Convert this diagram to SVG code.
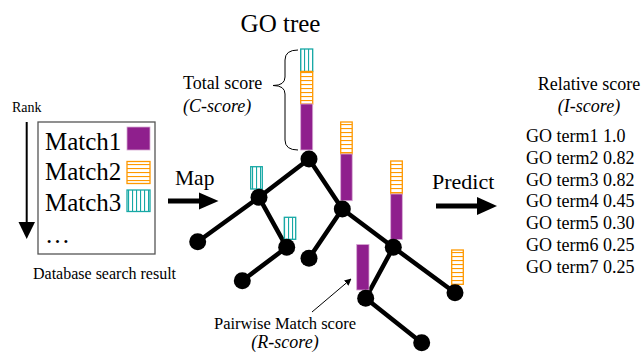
<svg xmlns="http://www.w3.org/2000/svg" width="643" height="353" viewBox="0 0 643 353">
<style>
text{font-family:"Liberation Serif","Times New Roman",serif;fill:#000}
.it{font-style:italic}
.edge{stroke:#000;stroke-width:4.5;stroke-linecap:round}
.node{fill:#000}
.p{fill:#8f1f8d;stroke:#d6a8d3;stroke-width:0.8}
.o{fill:url(#hH);stroke:#ff9900;stroke-width:1.3}
.c{fill:url(#vH);stroke:#17a8a5;stroke-width:1.3}
</style>
<defs>
<pattern id="hH" patternUnits="userSpaceOnUse" width="4" height="4"><rect width="4" height="4" fill="#fff"/><line x1="0" y1="0.5" x2="4" y2="0.5" stroke="#ff9900" stroke-width="1.2"/></pattern>
<pattern id="vH" patternUnits="userSpaceOnUse" width="4" height="4"><rect width="4" height="4" fill="#fff"/><line x1="0.5" y1="0" x2="0.5" y2="4" stroke="#17a8a5" stroke-width="1.2"/></pattern>
<marker id="ah" viewBox="0 0 10 10" refX="9" refY="5" markerWidth="7" markerHeight="7" markerUnits="userSpaceOnUse" orient="auto"><path d="M0,0 L10,5 L0,10 z" fill="#000"/></marker>
</defs>
<rect width="643" height="353" fill="#fff"/>

<!-- Database search result -->
<g id="db">
<text x="12" y="112" font-size="14">Rank</text>
<line x1="26.7" y1="122" x2="26.7" y2="223" stroke="#000" stroke-width="2"/>
<path d="M18.5,222 L35,222 L26.7,239 z" fill="#000"/>
<rect x="38" y="122" width="117" height="132" fill="#fff" stroke="#555" stroke-width="1.3"/>
<text x="45" y="149.5" font-size="25">Match1</text>
<text x="45" y="180" font-size="25">Match2</text>
<text x="45" y="210.5" font-size="25">Match3</text>
<text x="45" y="243" font-size="25">…</text>
<rect class="p" x="127" y="127" width="23" height="23"/>
<rect class="o" x="127" y="161.5" width="23" height="22"/>
<rect class="c" x="127" y="190" width="23" height="21.5"/>
<text x="33" y="279" font-size="16">Database search result</text>
</g>

<!-- Map arrow -->
<g id="map">
<text x="175" y="185" font-size="21.5">Map</text>
<line x1="168" y1="201" x2="201" y2="201" stroke="#000" stroke-width="5"/>
<path d="M199,192.5 L218.5,201 L199,209.5 z" fill="#000"/>
</g>

<text x="280.5" y="32" font-size="25" text-anchor="middle">GO tree</text>

<!-- Total score -->
<g id="total">
<text x="183" y="89" font-size="18">Total score</text>
<text x="183" y="111.5" font-size="18" class="it">(C-score)</text>
<path d="M298,50 Q285,50 285,60 L285,77 Q285,85.5 273,85.5 Q285,85.5 285,94 L285,140 Q285,150 298,150" fill="none" stroke="#000" stroke-width="1"/>
</g>

<!-- connectors -->
<g id="connectors">
<line class="edge" x1="309" y1="159" x2="259" y2="197.3"/>
<line class="edge" x1="309" y1="159" x2="342.3" y2="209"/>
<line class="edge" x1="259" y1="197.3" x2="197.7" y2="241.7"/>
<line class="edge" x1="259" y1="197.3" x2="286.7" y2="247.3"/>
<line class="edge" x1="286.7" y1="247.3" x2="242.3" y2="280.7"/>
<line class="edge" x1="342.3" y1="209" x2="309" y2="258.3"/>
<line class="edge" x1="342.3" y1="209" x2="393.3" y2="247.3"/>
<line class="edge" x1="393.3" y1="247.3" x2="365.7" y2="298.3"/>
<line class="edge" x1="393.3" y1="247.3" x2="455" y2="292.7"/>
<line class="edge" x1="365.7" y1="298.3" x2="421.7" y2="342.7"/>
</g>

<!-- score bars -->
<g id="bars">
<rect class="c" x="300.7" y="49" width="12" height="22.5"/>
<rect class="o" x="300.7" y="71.5" width="12" height="32.5"/>
<rect class="p" x="300.7" y="104" width="12" height="46"/>
<rect class="o" x="340.7" y="122" width="11.5" height="32"/>
<rect class="p" x="340.7" y="154" width="11.5" height="46.7"/>
<rect class="o" x="390.7" y="161" width="11.6" height="33"/>
<rect class="p" x="390.7" y="194" width="11.6" height="45.5"/>
<rect class="c" x="250.7" y="166.7" width="11.6" height="22.3"/>
<rect class="c" x="284.3" y="217.3" width="11.4" height="22"/>
<rect class="p" x="356.7" y="244.5" width="12.3" height="45.5"/>
<rect class="o" x="451.7" y="250" width="11.6" height="34.3"/>
</g>

<!-- nodes -->
<g id="n-root"><circle class="node" cx="309" cy="159" r="8.5"/></g>
<g id="n-a"><circle class="node" cx="259" cy="197.3" r="8.5"/></g>
<g id="n-a1"><circle class="node" cx="197.7" cy="241.7" r="8.5"/></g>
<g id="n-b"><circle class="node" cx="286.7" cy="247.3" r="8.5"/></g>
<g id="n-b1"><circle class="node" cx="242.3" cy="280.7" r="8.5"/></g>
<g id="n-c"><circle class="node" cx="342.3" cy="209" r="8.5"/></g>
<g id="n-c1"><circle class="node" cx="309" cy="258.3" r="8.5"/></g>
<g id="n-d"><circle class="node" cx="393.3" cy="247.3" r="8.5"/></g>
<g id="n-d1"><circle class="node" cx="455" cy="292.7" r="8.5"/></g>
<g id="n-e"><circle class="node" cx="365.7" cy="298.3" r="8.5"/></g>
<g id="n-e1"><circle class="node" cx="421.7" cy="342.7" r="8.5"/></g>

<!-- Pairwise label -->
<g id="pairwise">
<line x1="312" y1="312" x2="351" y2="279" stroke="#000" stroke-width="1" marker-end="url(#ah)"/>
<text x="285" y="329" font-size="16.5" text-anchor="middle">Pairwise Match score</text>
<text x="285" y="348" font-size="18" class="it" text-anchor="middle">(R-score)</text>
</g>

<!-- Predict arrow -->
<g id="predict">
<text x="432" y="189" font-size="22">Predict</text>
<line x1="436" y1="206" x2="479" y2="206" stroke="#000" stroke-width="5"/>
<path d="M477,197 L497,206 L477,215 z" fill="#000"/>
</g>

<!-- Relative score -->
<g id="result">
<text x="589" y="90" font-size="18" text-anchor="middle">Relative score</text>
<text x="589" y="112" font-size="18" class="it" text-anchor="middle">(I-score)</text>
<text x="526" y="141.7" font-size="18">GO term1 1.0</text>
<text x="526" y="163.6" font-size="18">GO term2 0.82</text>
<text x="526" y="185.5" font-size="18">GO term3 0.82</text>
<text x="526" y="207.4" font-size="18">GO term4 0.45</text>
<text x="526" y="229.3" font-size="18">GO term5 0.30</text>
<text x="526" y="251.2" font-size="18">GO term6 0.25</text>
<text x="526" y="273.1" font-size="18">GO term7 0.25</text>
</g>
</svg>
